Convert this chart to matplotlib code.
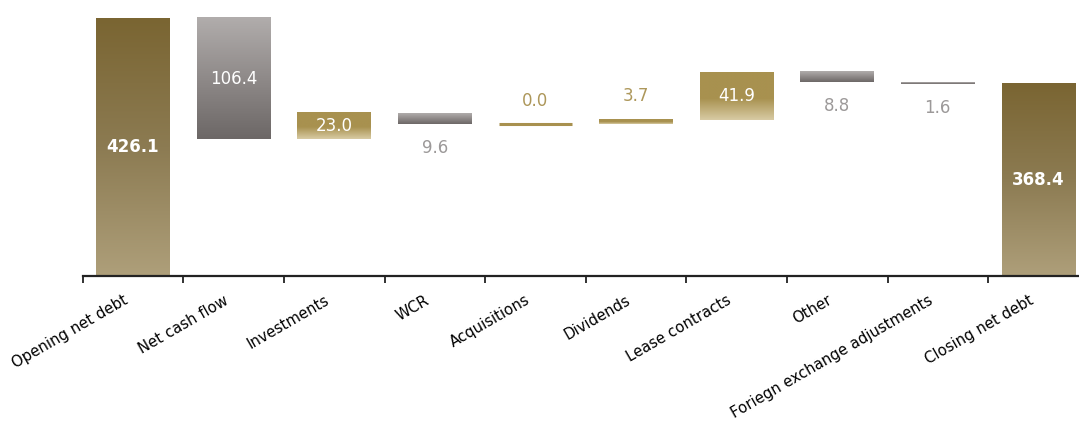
import numpy as np
import matplotlib.pyplot as plt
from matplotlib.colors import LinearSegmentedColormap

# Net debt bridge
categories = ['Opening net debt', 'Net cash flow', 'Investments', 'WCR', 'Acquisitions',
              'Dividends', 'Lease contracts', 'Other', 'Foriegn exchange adjustments',
              'Closing net debt']
opening = 426.1
changes = [-106.4, 23.0, -9.6, 0.0, 3.7, 41.9, -8.8, -1.6]
closing = 368.4

# waterfall geometry
bottoms = [0.0]
heights = [opening]
level = opening
for c in changes:
    bottoms.append(min(level, level + c))
    heights.append(abs(c))
    level += c
bottoms.append(0.0)
heights.append(closing)
kinds = ['total'] + ['up' if c >= 0 else 'down' for c in changes] + ['total']
label_vals = [opening] + [abs(c) for c in changes] + [closing]

cmaps = {
    'total': LinearSegmentedColormap.from_list('total', ['#7a6532', '#8c7b52', '#ae9f7a']),
    'down': LinearSegmentedColormap.from_list('down', ['#b1adac', '#8f8a89', '#6c6766']),
    'up': LinearSegmentedColormap.from_list('up', [(0, '#a8914f'), (0.55, '#a8914f'), (1, '#d8cba4')]),
}
gold_text = '#ad975a'
grey_text = '#9c9999'

fig = plt.figure(figsize=(10.79, 4.22), dpi=100)
ax = fig.add_axes([82.7 / 1079, 146 / 422, 1006 / 1079, 276 / 422])
ylo, yhi = 200, 442
ax.set_xlim(-0.5, 9.5)
ax.set_ylim(ylo, yhi)

x = np.arange(len(categories))
bars = ax.bar(x, heights, bottom=bottoms, width=0.73, color='none', edgecolor='none', zorder=2)

grad = np.linspace(0, 1, 256).reshape(-1, 1)
for i, p in enumerate(bars.patches):
    x0 = p.get_x()
    x1 = x0 + p.get_width()
    y0 = max(p.get_y(), ylo)
    y1 = p.get_y() + p.get_height()
    if heights[i] == 0:
        ax.plot([x0, x1], [y0, y0], color='#a8914f', lw=2.2, solid_capstyle='butt', zorder=3)
        continue
    ax.imshow(grad, cmap=cmaps[kinds[i]], extent=(x0, x1, y0, y1), aspect='auto',
              origin='upper', zorder=2, interpolation='bilinear')

ax.set_xlim(-0.5, 9.5)
ax.set_ylim(ylo, yhi)

# value labels
for i, p in enumerate(bars.patches):
    xc = p.get_x() + p.get_width() / 2
    y0 = max(p.get_y(), ylo)
    y1 = p.get_y() + p.get_height()
    txt = f'{label_vals[i]:.1f}'
    if kinds[i] == 'total':
        ax.text(xc, (y0 + y1) / 2, txt, ha='center', va='center', color='white',
                fontsize=12, fontweight='bold', zorder=4)
    elif heights[i] > 15:
        ax.text(xc, (y0 + y1) / 2, txt, ha='center', va='center', color='white',
                fontsize=12, zorder=4)
    elif kinds[i] == 'up':
        ax.annotate(txt, (xc, y1), xytext=(0, 17), textcoords='offset points',
                    ha='center', va='center', color=gold_text, fontsize=12)
    else:
        ax.annotate(txt, (xc, y0), xytext=(0, -17), textcoords='offset points',
                    ha='center', va='center', color=grey_text, fontsize=12)

# category labels sit slightly left of the bar centre, rotated
ax.set_xticks(x - 0.1)
ax.set_xticklabels(categories, rotation=30, ha='right', rotation_mode='anchor', fontsize=10.7)
ax.set_xticks(np.arange(-0.5, 9.5, 1), minor=True)
ax.tick_params(axis='x', which='major', length=0, pad=12)
ax.tick_params(axis='x', which='minor', length=5, width=1.3, direction='out', color='#222222')
ax.set_yticks([])
for s in ['top', 'right', 'left']:
    ax.spines[s].set_visible(False)
ax.spines['bottom'].set_linewidth(1.6)
ax.spines['bottom'].set_color('#222222')

fig.savefig('out.png', dpi=100)
